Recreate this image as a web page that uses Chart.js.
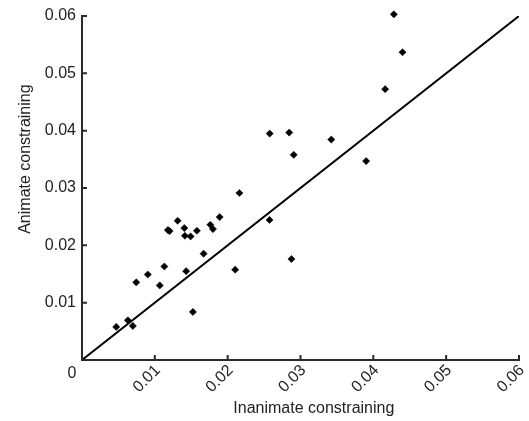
<!DOCTYPE html>
<html>
<head>
<meta charset="utf-8">
<script src="https://cdn.jsdelivr.net/npm/chart.js@4/dist/chart.umd.min.js"></script>
<style>
html,body{margin:0;padding:0;background:#ffffff;}
#wrap{width:529px;height:421px;position:relative;}
</style>
</head>
<body>
<div id="wrap"><canvas id="c" width="529" height="421"></canvas></div>
<script>
// ---- data ----
const inanimate = [0.00470,0.00630,0.00698,0.00745,0.00903,0.01068,0.01131,0.01179,0.01203,0.01313,
                   0.01405,0.01413,0.01491,0.01578,0.01430,0.01523,0.01670,0.01762,0.01798,0.01890,
                   0.02161,0.02103,0.02575,0.02876,0.02577,0.02845,0.02907,0.03423,0.03901,0.04162,
                   0.04282,0.04401];
const animate   = [0.00577,0.00692,0.00594,0.01354,0.01491,0.01301,0.01631,0.02267,0.02249,0.02429,
                   0.02301,0.02167,0.02155,0.02254,0.01549,0.00838,0.01854,0.02359,0.02284,0.02493,
                   0.02913,0.01575,0.02443,0.01761,0.03949,0.03967,0.03578,0.03845,0.03469,0.04723,
                   0.06030,0.05368];
const identityLine = [0, 0.06];
const tickValues = [0, 0.01, 0.02, 0.03, 0.04, 0.05, 0.06];
const tickLabels = ['0', '0.01', '0.02', '0.03', '0.04', '0.05', '0.06'];
const xTitle = 'Inanimate constraining';
const yTitle = 'Animate constraining';

const FONT = "'Liberation Sans', Arial, Helvetica, sans-serif";
const AXIS_COLOR = '#2a2a2a';
const TEXT_COLOR = '#222222';

const points = inanimate.map((v, i) => ({x: v, y: animate[i]}));
const linePts = identityLine.map(v => ({x: v, y: v}));

// inward tick marks and shared origin label
const innerTicks = {
  id: 'innerTicks',
  afterDraw(chart) {
    const {ctx, scales: {x, y}} = chart;
    const len = 5;
    ctx.save();
    ctx.strokeStyle = AXIS_COLOR;
    ctx.lineWidth = 2;
    ctx.beginPath();
    tickValues.forEach(v => {
      const px = x.getPixelForValue(v);
      ctx.moveTo(px, y.bottom);
      ctx.lineTo(px, y.bottom - len);
      const py = y.getPixelForValue(v);
      ctx.moveTo(x.left, py);
      ctx.lineTo(x.left + len, py);
    });
    ctx.stroke();
    ctx.fillStyle = TEXT_COLOR;
    ctx.font = '16px ' + FONT;
    ctx.textAlign = 'center';
    ctx.textBaseline = 'middle';
    ctx.fillText(tickLabels[0], x.getPixelForValue(0) - 10, y.getPixelForValue(0) + 14);
    ctx.restore();
  }
};

const fixTicks = scale => { scale.ticks = tickValues.map(v => ({value: v})); };
const labelCb = (value, index) => index === 0 ? '' : tickLabels[index];

new Chart(document.getElementById('c'), {
  type: 'scatter',
  data: {
    datasets: [
      {
        data: points,
        pointStyle: 'rectRot',
        pointRadius: 3.6,
        pointBackgroundColor: '#000',
        pointBorderColor: '#000',
        pointBorderWidth: 0.5,
        clip: false,
        order: 1
      },
      {
        type: 'line',
        data: linePts,
        borderColor: '#000',
        borderWidth: 2,
        pointRadius: 0,
        fill: false,
        order: 2
      }
    ]
  },
  options: {
    responsive: false,
    animation: false,
    devicePixelRatio: 1,
    layout: {padding: {left: 0, top: 16, right: 0, bottom: 0}},
    plugins: {legend: {display: false}, tooltip: {enabled: false}},
    scales: {
      x: {
        type: 'linear',
        min: 0, max: 0.06,
        afterBuildTicks: fixTicks,
        afterFit: s => { s.height = 61; s.paddingRight = 10; s.paddingLeft = 0; },
        grid: {display: false, drawTicks: false},
        border: {display: true, color: AXIS_COLOR, width: 2},
        ticks: {
          callback: labelCb,
          autoSkip: false,
          minRotation: 45, maxRotation: 45,
          padding: 1,
          labelOffset: 3,
          color: TEXT_COLOR,
          font: {family: FONT, size: 16}
        },
        title: {
          display: true,
          text: '      ' + xTitle,
          color: TEXT_COLOR,
          font: {family: FONT, size: 16},
          padding: {top: 0, bottom: 3}
        }
      },
      y: {
        type: 'linear',
        min: 0, max: 0.06,
        afterBuildTicks: fixTicks,
        afterFit: s => { s.width = 82; },
        grid: {display: false, drawTicks: false},
        border: {display: true, color: AXIS_COLOR, width: 2},
        ticks: {
          callback: labelCb,
          autoSkip: false,
          padding: 6,
          color: TEXT_COLOR,
          font: {family: FONT, size: 16}
        },
        title: {
          display: true,
          text: '             ' + yTitle,
          color: TEXT_COLOR,
          font: {family: FONT, size: 16},
          padding: {top: 16, bottom: 0}
        }
      }
    }
  },
  plugins: [innerTicks]
});
</script>
</body>
</html>
